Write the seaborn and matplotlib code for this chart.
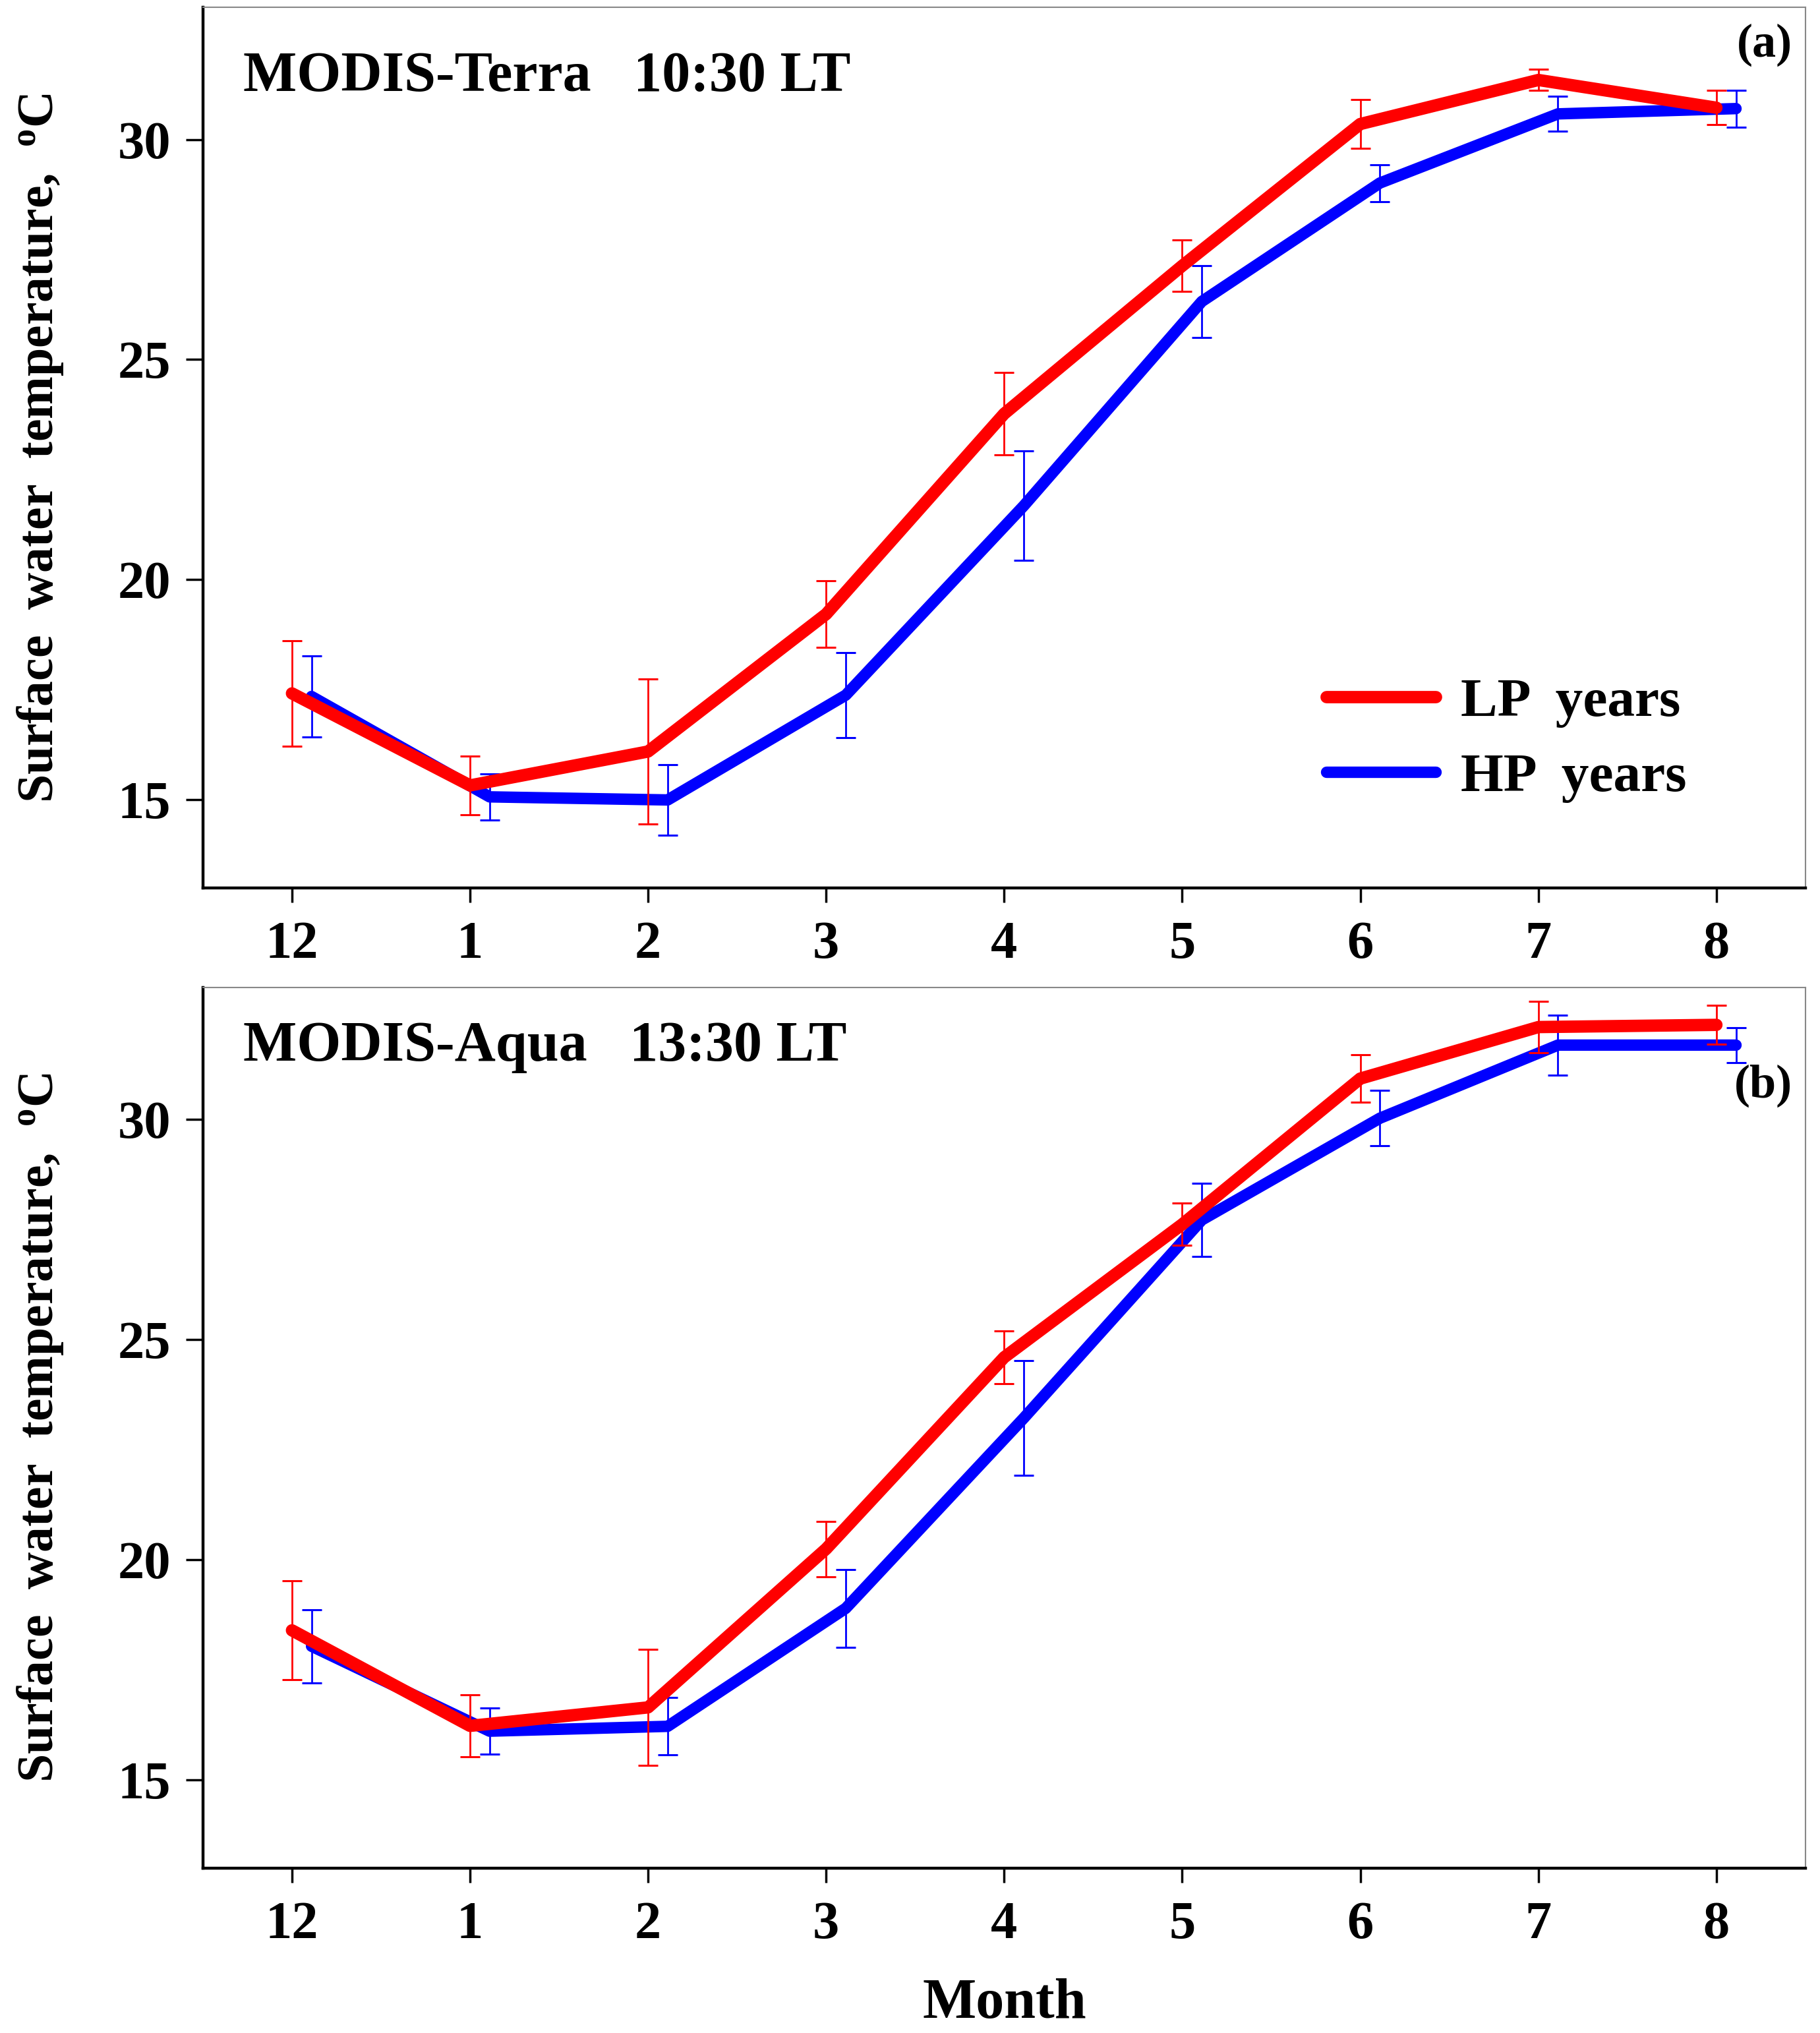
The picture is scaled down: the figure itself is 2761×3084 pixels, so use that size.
import numpy as np
import pandas as pd
import matplotlib
matplotlib.use("Agg")
from matplotlib import pyplot as plt
import seaborn as sns

# months (Dec -> Aug)
months = ["12", "1", "2", "3", "4", "5", "6", "7", "8"]

# MODIS-Terra 10:30 LT
terra_lp = [17.42, 15.33, 16.10, 19.22, 23.77, 27.13, 30.35, 31.35, 30.72]
terra_lp_err = [1.20, 0.66, 1.65, 0.75, 0.94, 0.58, 0.55, 0.24, 0.39]
terra_hp = [17.35, 15.07, 15.00, 17.38, 21.68, 26.32, 29.01, 30.58, 30.70]
terra_hp_err = [0.92, 0.52, 0.80, 0.97, 1.24, 0.82, 0.42, 0.40, 0.42]

# MODIS-Aqua 13:30 LT
aqua_lp = [18.40, 16.23, 16.65, 20.25, 24.60, 27.62, 30.93, 32.10, 32.15]
aqua_lp_err = [1.12, 0.70, 1.32, 0.63, 0.60, 0.48, 0.54, 0.58, 0.44]
aqua_hp = [18.04, 16.11, 16.22, 18.90, 23.22, 27.72, 30.03, 31.69, 31.69]
aqua_hp_err = [0.83, 0.52, 0.65, 0.88, 1.30, 0.83, 0.63, 0.68, 0.40]

panels = [
    ("MODIS-Terra   10:30 LT", "(a)", terra_lp, terra_lp_err, terra_hp, terra_hp_err),
    ("MODIS-Aqua   13:30 LT", "(b)", aqua_lp, aqua_lp_err, aqua_hp, aqua_hp_err),
]

sns.set_style("ticks")
plt.rcParams["font.family"] = ["Liberation Serif", "DejaVu Serif"]
plt.rcParams["font.weight"] = "bold"
plt.rcParams["mathtext.default"] = "regular"
for key in ["text.color", "axes.labelcolor", "xtick.color", "ytick.color"]:
    plt.rcParams[key] = "black"

fig = plt.figure(figsize=(27.61, 30.84), dpi=100)
ax_pos = [[0.1115, 0.5632, 0.8805, 0.4332],
          [0.1115, 0.0811, 0.8805, 0.4332]]

idx = np.arange(len(months))
shift = 0.11

for k, (title, tag, lp, lp_err, hp, hp_err) in enumerate(panels):
    ax = fig.add_axes(ax_pos[k])
    df = pd.DataFrame({
        "x": np.concatenate([idx + shift, idx]),
        "temp": hp + lp,
        "err": hp_err + lp_err,
        "group": ["HP  years"] * len(hp) + ["LP  years"] * len(lp),
    })
    hp_df = df[df.group == "HP  years"]
    lp_df = df[df.group == "LP  years"]

    ax.errorbar(hp_df.x, hp_df.temp, yerr=hp_df.err, fmt="none", ecolor="blue",
                elinewidth=2.0, capsize=11, capthick=2.2, zorder=2)
    sns.lineplot(data=hp_df, x="x", y="temp", color="blue", lw=12.5, ax=ax,
                 solid_capstyle="round", solid_joinstyle="round", zorder=3,
                 label="HP  years", legend=False)
    ax.errorbar(lp_df.x, lp_df.temp, yerr=lp_df.err, fmt="none", ecolor="red",
                elinewidth=2.0, capsize=11, capthick=2.2, zorder=4)
    sns.lineplot(data=lp_df, x="x", y="temp", color="red", lw=13.5, ax=ax,
                 solid_capstyle="round", solid_joinstyle="round", zorder=5,
                 label="LP  years", legend=False)

    ax.set_xlim(-0.5, 8.5)
    ax.set_ylim(13, 33)
    ax.set_xticks(idx)
    ax.set_xticklabels(months)
    ax.set_yticks([15, 20, 25, 30])
    ax.tick_params(axis="x", length=16, width=2.5, labelsize=58, pad=20)
    ax.tick_params(axis="y", length=19, width=2.5, labelsize=58, pad=16)
    for s in ["left", "bottom"]:
        ax.spines[s].set_linewidth(3.2)
        ax.spines[s].set_color("black")
    for s in ["top", "right"]:
        ax.spines[s].set_linewidth(1.5)
        ax.spines[s].set_color("#888888")

    ax.set_ylabel("Surface  water  temperature,  $^o$C", fontsize=56,
                  fontweight="bold")
    ax.yaxis.set_label_coords(-0.086, 0.5)
    if k == 1:
        ax.set_xlabel("Month", fontsize=62, fontweight="bold")
        ax.xaxis.set_label_coords(0.5, -0.125)
    else:
        ax.set_xlabel("")

    ax.text(0.025, 0.905 if k == 0 else 0.917, title, transform=ax.transAxes,
            fontsize=62, fontweight="bold", ha="left", va="baseline")
    ax.text(0.992, 0.957 if k == 0 else 0.888, tag, transform=ax.transAxes,
            fontsize=52, fontweight="bold", ha="right", va="center")

    if k == 0:
        h, l = ax.get_legend_handles_labels()
        order = [l.index("LP  years"), l.index("HP  years")]
        ax.legend([h[i] for i in order], [l[i] for i in order],
                  loc="center left", bbox_to_anchor=(0.67, 0.168),
                  frameon=False, fontsize=60, handlelength=2.0,
                  handletextpad=0.45, labelspacing=0.45)

fig.savefig("out.png", dpi=100)
